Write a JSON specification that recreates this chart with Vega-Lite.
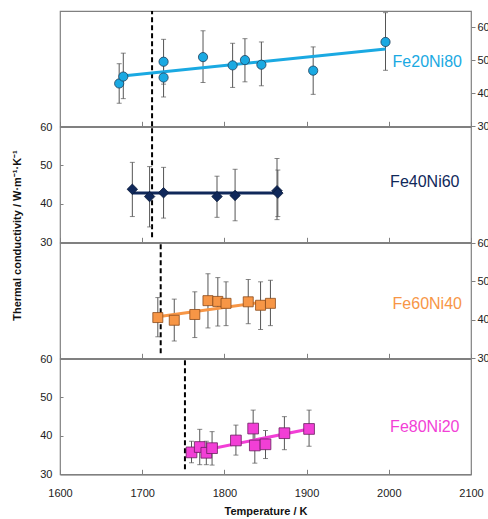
{
  "$schema": "https://vega.github.io/schema/vega-lite/v6.json",
  "padding": {"left": 10, "top": 9, "right": 0, "bottom": 2},
  "background": "white",
  "spacing": 0,
  "bounds": "flush",
  "datasets": {
    "pts": [
      {"panel": 1, "T": 1672, "k": 43.0, "lo": 37.0, "hi": 49.0},
      {"panel": 1, "T": 1677, "k": 45.1, "lo": 38.4, "hi": 52.2},
      {"panel": 1, "T": 1726, "k": 49.6, "lo": 42.8, "hi": 56.4},
      {"panel": 1, "T": 1726, "k": 44.8, "lo": 38.9, "hi": 50.7},
      {"panel": 1, "T": 1774, "k": 51.0, "lo": 43.3, "hi": 59.0},
      {"panel": 1, "T": 1810, "k": 48.5, "lo": 41.8, "hi": 55.2},
      {"panel": 1, "T": 1825, "k": 50.1, "lo": 43.5, "hi": 56.6},
      {"panel": 1, "T": 1845, "k": 48.7, "lo": 42.3, "hi": 55.6},
      {"panel": 1, "T": 1908, "k": 46.9, "lo": 39.7, "hi": 54.1},
      {"panel": 1, "T": 1996, "k": 55.6, "lo": 47.0, "hi": 64.5},
      {"panel": 2, "T": 1688, "k": 43.8, "lo": 36.7, "hi": 50.8},
      {"panel": 2, "T": 1709, "k": 41.9, "lo": 34.0, "hi": 49.7},
      {"panel": 2, "T": 1726, "k": 42.9, "lo": 36.3, "hi": 49.5},
      {"panel": 2, "T": 1791, "k": 41.9, "lo": 36.5, "hi": 47.2},
      {"panel": 2, "T": 1813, "k": 42.2, "lo": 35.6, "hi": 49.0},
      {"panel": 2, "T": 1864, "k": 43.4, "lo": 35.9, "hi": 51.8},
      {"panel": 2, "T": 1865, "k": 42.8, "lo": 36.7, "hi": 48.8},
      {"panel": 3, "T": 1719, "k": 40.6, "lo": 35.6, "hi": 45.8},
      {"panel": 3, "T": 1739, "k": 39.9, "lo": 34.5, "hi": 45.4},
      {"panel": 3, "T": 1764, "k": 41.4, "lo": 35.4, "hi": 47.3},
      {"panel": 3, "T": 1780, "k": 45.0, "lo": 37.9, "hi": 52.0},
      {"panel": 3, "T": 1792, "k": 44.8, "lo": 38.4, "hi": 51.0},
      {"panel": 3, "T": 1802, "k": 44.3, "lo": 38.5, "hi": 49.9},
      {"panel": 3, "T": 1829, "k": 44.7, "lo": 39.0, "hi": 50.5},
      {"panel": 3, "T": 1844, "k": 43.8, "lo": 37.5, "hi": 49.9},
      {"panel": 3, "T": 1856, "k": 44.3, "lo": 38.5, "hi": 50.3},
      {"panel": 4, "T": 1760, "k": 35.7, "lo": 33.0, "hi": 38.6},
      {"panel": 4, "T": 1770, "k": 37.1, "lo": 32.5, "hi": 41.7},
      {"panel": 4, "T": 1778, "k": 35.6, "lo": 32.5, "hi": 38.6},
      {"panel": 4, "T": 1785, "k": 36.8, "lo": 32.4, "hi": 41.1},
      {"panel": 4, "T": 1814, "k": 38.8, "lo": 35.0, "hi": 42.8},
      {"panel": 4, "T": 1835, "k": 41.9, "lo": 37.5, "hi": 46.7},
      {"panel": 4, "T": 1837, "k": 37.5, "lo": 32.9, "hi": 42.0},
      {"panel": 4, "T": 1850, "k": 37.8, "lo": 34.1, "hi": 41.4},
      {"panel": 4, "T": 1873, "k": 40.7, "lo": 36.4, "hi": 45.0},
      {"panel": 4, "T": 1903, "k": 41.8, "lo": 37.3, "hi": 46.7}
    ],
    "fit": [
      {"panel": 1, "T": 1676, "k": 45.3},
      {"panel": 1, "T": 1996, "k": 53.5},
      {"panel": 2, "T": 1688, "k": 42.8},
      {"panel": 2, "T": 1866, "k": 42.8},
      {"panel": 3, "T": 1719, "k": 40.8},
      {"panel": 3, "T": 1856, "k": 44.9},
      {"panel": 4, "T": 1760, "k": 35.6},
      {"panel": 4, "T": 1903, "k": 41.8}
    ],
    "dash": [
      {"panel": 1, "T": 1712, "y1": 30, "y2": 65},
      {"panel": 2, "T": 1712, "y1": 31.3, "y2": 60},
      {"panel": 3, "T": 1722.5, "y1": 31.3, "y2": 60},
      {"panel": 4, "T": 1752, "y1": 31.3, "y2": 60}
    ],
    "lab": [
      {"panel": 1, "T": 2089, "k": 49.4, "name": "Fe20Ni80"},
      {"panel": 2, "T": 2086, "k": 45.8, "name": "Fe40Ni60"},
      {"panel": 3, "T": 2089, "k": 44.0, "name": "Fe60Ni40"},
      {"panel": 4, "T": 2086, "k": 42.3, "name": "Fe80Ni20"}
    ]
  },
  "vconcat": [
    {
      "width": 411, "height": 115.3,
      "layer": [
        {"data": {"name": "dash"}, "transform": [{"filter": "datum.panel == 1"}],
         "mark": {"type": "rule", "strokeDash": [5, 3], "strokeWidth": 2, "color": "black"},
         "encoding": {
           "x": {"field": "T", "type": "quantitative", "scale": {"domain": [1600, 2100], "nice": false},
                 "axis": {"values": [1600, 1700, 1800, 1900, 2000, 2100], "tickCount": 20, "labels": false, "tickSize": -5, "title": null}},
           "y": {"field": "y1", "type": "quantitative", "scale": {"domain": [30, 65], "nice": false},
                 "axis": {"orient": "right", "values": [30, 40, 50, 60], "tickCount": 20, "tickSize": 4, "labelPadding": 2, "domain": false, "title": null, "labelOverlap": false}},
           "y2": {"field": "y2"}}},
        {"data": {"name": "pts"}, "transform": [{"filter": "datum.panel == 1"}],
         "mark": {"type": "errorbar", "ticks": {"size": 5, "color": "#555"}, "rule": {"color": "#555", "strokeWidth": 1}},
         "encoding": {"x": {"field": "T", "type": "quantitative"}, "y": {"field": "lo", "type": "quantitative", "title": null}, "y2": {"field": "hi"}}},
        {"data": {"name": "fit"}, "transform": [{"filter": "datum.panel == 1"}],
         "mark": {"type": "line", "color": "#1aa9e2", "strokeWidth": 3},
         "encoding": {"x": {"field": "T", "type": "quantitative"}, "y": {"field": "k", "type": "quantitative"}}},
        {"data": {"name": "pts"}, "transform": [{"filter": "datum.panel == 1"}],
         "mark": {"type": "point", "shape": "circle", "size": 85, "filled": true, "fill": "#1aa9e2", "stroke": "#1f3f5a", "strokeWidth": 0.8, "opacity": 1},
         "encoding": {"x": {"field": "T", "type": "quantitative"}, "y": {"field": "k", "type": "quantitative"}}},
        {"data": {"name": "lab"}, "transform": [{"filter": "datum.panel == 1"}],
         "mark": {"type": "text", "align": "right", "baseline": "middle", "fontSize": 16, "color": "#1aa9e2"},
         "encoding": {"x": {"field": "T", "type": "quantitative"}, "y": {"field": "k", "type": "quantitative"}, "text": {"field": "name"}}}
      ]
    },
    {
      "width": 411, "height": 115.3,
      "layer": [
        {"data": {"name": "dash"}, "transform": [{"filter": "datum.panel == 2"}],
         "mark": {"type": "rule", "strokeDash": [5, 3], "strokeWidth": 2, "color": "black"},
         "encoding": {
           "x": {"field": "T", "type": "quantitative", "scale": {"domain": [1600, 2100], "nice": false},
                 "axis": {"values": [1600, 1700, 1800, 1900, 2000, 2100], "tickCount": 20, "labels": false, "tickSize": -5, "title": null}},
           "y": {"field": "y1", "type": "quantitative", "scale": {"domain": [30, 60], "nice": false},
                 "axis": {"orient": "left", "values": [30, 40, 50, 60], "tickCount": 20, "tickSize": -3, "labelPadding": 11, "domain": false, "labelOverlap": false,
                          "title": "Thermal conductivity / W·m⁻¹·K⁻¹", "titleFontWeight": "bold", "titleFontSize": 11,
                          "titleX": -38, "titleY": 108, "titleAngle": -90}},
           "y2": {"field": "y2"}}},
        {"data": {"name": "pts"}, "transform": [{"filter": "datum.panel == 2"}],
         "mark": {"type": "errorbar", "ticks": {"size": 5, "color": "#555"}, "rule": {"color": "#555", "strokeWidth": 1}},
         "encoding": {"x": {"field": "T", "type": "quantitative"}, "y": {"field": "lo", "type": "quantitative", "title": "Thermal conductivity / W·m⁻¹·K⁻¹"}, "y2": {"field": "hi"}}},
        {"data": {"name": "fit"}, "transform": [{"filter": "datum.panel == 2"}],
         "mark": {"type": "line", "color": "#10285a", "strokeWidth": 3},
         "encoding": {"x": {"field": "T", "type": "quantitative"}, "y": {"field": "k", "type": "quantitative"}}},
        {"data": {"name": "pts"}, "transform": [{"filter": "datum.panel == 2"}],
         "mark": {"type": "point", "shape": "diamond", "size": 110, "filled": true, "fill": "#10285a", "stroke": "#0a1a3a", "strokeWidth": 0.8, "opacity": 1},
         "encoding": {"x": {"field": "T", "type": "quantitative"}, "y": {"field": "k", "type": "quantitative"}}},
        {"data": {"name": "lab"}, "transform": [{"filter": "datum.panel == 2"}],
         "mark": {"type": "text", "align": "right", "baseline": "middle", "fontSize": 16, "color": "#10285a"},
         "encoding": {"x": {"field": "T", "type": "quantitative"}, "y": {"field": "k", "type": "quantitative"}, "text": {"field": "name"}}}
      ]
    },
    {
      "width": 411, "height": 115.3,
      "layer": [
        {"data": {"name": "dash"}, "transform": [{"filter": "datum.panel == 3"}],
         "mark": {"type": "rule", "strokeDash": [5, 3], "strokeWidth": 2, "color": "black"},
         "encoding": {
           "x": {"field": "T", "type": "quantitative", "scale": {"domain": [1600, 2100], "nice": false},
                 "axis": {"values": [1600, 1700, 1800, 1900, 2000, 2100], "tickCount": 20, "labels": false, "tickSize": -5, "title": null}},
           "y": {"field": "y1", "type": "quantitative", "scale": {"domain": [30, 60], "nice": false},
                 "axis": {"orient": "right", "values": [30, 40, 50, 60], "tickCount": 20, "tickSize": 4, "labelPadding": 2, "domain": false, "title": null, "labelOverlap": false}},
           "y2": {"field": "y2"}}},
        {"data": {"name": "pts"}, "transform": [{"filter": "datum.panel == 3"}],
         "mark": {"type": "errorbar", "ticks": {"size": 5, "color": "#555"}, "rule": {"color": "#555", "strokeWidth": 1}},
         "encoding": {"x": {"field": "T", "type": "quantitative"}, "y": {"field": "lo", "type": "quantitative", "title": null}, "y2": {"field": "hi"}}},
        {"data": {"name": "fit"}, "transform": [{"filter": "datum.panel == 3"}],
         "mark": {"type": "line", "color": "#f79646", "strokeWidth": 3},
         "encoding": {"x": {"field": "T", "type": "quantitative"}, "y": {"field": "k", "type": "quantitative"}}},
        {"data": {"name": "pts"}, "transform": [{"filter": "datum.panel == 3"}],
         "mark": {"type": "point", "shape": "square", "size": 100, "filled": true, "fill": "#f79646", "stroke": "#8a4a1a", "strokeWidth": 0.8, "opacity": 1},
         "encoding": {"x": {"field": "T", "type": "quantitative"}, "y": {"field": "k", "type": "quantitative"}}},
        {"data": {"name": "lab"}, "transform": [{"filter": "datum.panel == 3"}],
         "mark": {"type": "text", "align": "right", "baseline": "middle", "fontSize": 16, "color": "#f79646"},
         "encoding": {"x": {"field": "T", "type": "quantitative"}, "y": {"field": "k", "type": "quantitative"}, "text": {"field": "name"}}}
      ]
    },
    {
      "width": 411, "height": 115.3,
      "layer": [
        {"data": {"name": "dash"}, "transform": [{"filter": "datum.panel == 4"}],
         "mark": {"type": "rule", "strokeDash": [5, 3], "strokeWidth": 2, "color": "black"},
         "encoding": {
           "x": {"field": "T", "type": "quantitative", "scale": {"domain": [1600, 2100], "nice": false},
                 "axis": {"values": [1600, 1700, 1800, 1900, 2000, 2100], "tickCount": 20, "format": "d", "tickSize": -5, "labelPadding": 18,
                          "title": "Temperature / K", "titleFontWeight": "bold", "titleFontSize": 11, "titlePadding": 7}},
           "y": {"field": "y1", "type": "quantitative", "scale": {"domain": [30, 60], "nice": false},
                 "axis": {"orient": "left", "values": [30, 40, 50, 60], "tickCount": 20, "tickSize": -3, "labelPadding": 11, "domain": false, "title": null, "labelOverlap": false}},
           "y2": {"field": "y2"}}},
        {"data": {"name": "pts"}, "transform": [{"filter": "datum.panel == 4"}],
         "mark": {"type": "errorbar", "ticks": {"size": 5, "color": "#555"}, "rule": {"color": "#555", "strokeWidth": 1}},
         "encoding": {"x": {"field": "T", "type": "quantitative"}, "y": {"field": "lo", "type": "quantitative", "title": null}, "y2": {"field": "hi"}}},
        {"data": {"name": "fit"}, "transform": [{"filter": "datum.panel == 4"}],
         "mark": {"type": "line", "color": "#f23fd6", "strokeWidth": 3},
         "encoding": {"x": {"field": "T", "type": "quantitative"}, "y": {"field": "k", "type": "quantitative"}}},
        {"data": {"name": "pts"}, "transform": [{"filter": "datum.panel == 4"}],
         "mark": {"type": "point", "shape": "square", "size": 115, "filled": true, "fill": "#f23fd6", "stroke": "#6a2060", "strokeWidth": 0.8, "opacity": 1},
         "encoding": {"x": {"field": "T", "type": "quantitative"}, "y": {"field": "k", "type": "quantitative"}}},
        {"data": {"name": "lab"}, "transform": [{"filter": "datum.panel == 4"}],
         "mark": {"type": "text", "align": "right", "baseline": "middle", "fontSize": 16, "color": "#f23fd6"},
         "encoding": {"x": {"field": "T", "type": "quantitative"}, "y": {"field": "k", "type": "quantitative"}, "text": {"field": "name"}}}
      ]
    }
  ],
  "config": {
    "font": "Liberation Sans",
    "view": {"stroke": "#808080", "strokeWidth": 1.2},
    "text": {"font": "Liberation Sans"},
    "axis": {"grid": false, "labelFont": "Liberation Sans", "labelFontSize": 11, "labelColor": "#222",
             "titleFont": "Liberation Sans", "titleColor": "#111",
             "domainColor": "#808080", "domainWidth": 1.5, "tickColor": "#808080",
             "labelFlush": false, "labelOverlap": false}
  }
}
